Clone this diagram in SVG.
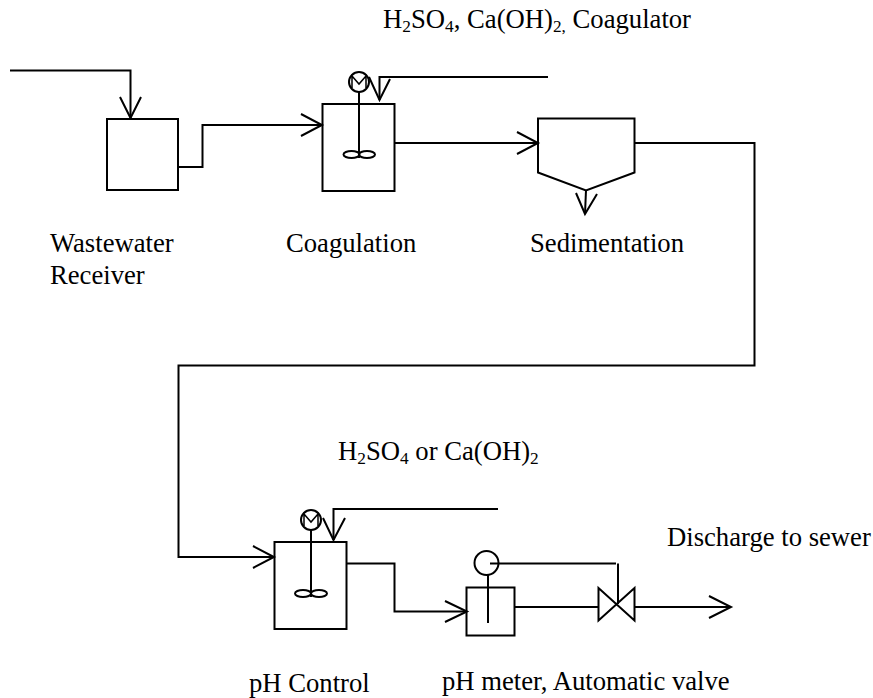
<svg xmlns="http://www.w3.org/2000/svg" width="873" height="698" viewBox="0 0 873 698">
<style>
.s{fill:none;stroke:#000;stroke-width:2;stroke-linejoin:miter}
.b{fill:#fff;stroke:#000;stroke-width:2}
.m{stroke-width:1.500}
.t{font-family:"Liberation Serif","Times New Roman",serif;font-size:26.670px;fill:#000}
.u{font-size:17.330px}
</style>
<rect width="873" height="698" fill="#fff"/>
<g id="connectors" class="s">
<path d="M10 70.500H130.500V118"/><path d="M120 97L130.500 118L141 97"/>
<path d="M178 167H202.500V125H322"/><path d="M301 114L322 125L301 136"/>
<path d="M548 77H379.500V100"/><path d="M369 77L379.500 100L390 79"/>
<path d="M394 143H538"/><path d="M517 132L538 143L517 154"/>
<path d="M586 190L585 214"/><path d="M576 193L585 214L597 194"/>
<path d="M635 143H754.500V365.500H178.500V557H274"/><path d="M253 546L274 557L253 568"/>
<path d="M498 509H333.500V540"/><path d="M323 518L333.500 540L345 518"/>
<path d="M347 563.500H394.500V611.500H467"/><path d="M445 601L467 611.500L445 622"/>
<path d="M490 563.500H616M618 563.500V604"/>
<path d="M515 607H598M635 607H731"/><path d="M709 596L731 607L709 618"/>
</g>
<g id="receiver"><rect class="b" x="107" y="119" width="71" height="71"/></g>
<g id="coagulation" class="s">
<rect x="322.500" y="104" width="72" height="87"/>
<circle cx="359" cy="82" r="10"/><path class="m" d="M352 88V76L359 84L366 76V88"/><path d="M359 92V158"/>
<ellipse cx="351.500" cy="154.500" rx="8" ry="3.500"/><ellipse cx="367" cy="154.500" rx="8" ry="3.500"/>
</g>
<g id="sedimentation"><path class="s" d="M538 118.500H634.500V172.500L586 190.500L538 172.500Z"/></g>
<g id="ph-control" class="s">
<rect x="274.500" y="542" width="72" height="87"/>
<circle cx="311" cy="520" r="10"/><path class="m" d="M304 526V514L311 522L318 514V526"/><path d="M311 530V597"/>
<ellipse cx="303" cy="593.500" rx="8" ry="3.500"/><ellipse cx="319" cy="593.500" rx="8" ry="3.500"/>
</g>
<g id="ph-meter" class="s">
<rect x="466.500" y="587.500" width="48" height="48"/>
<circle cx="486.500" cy="563" r="12"/><path d="M488 575V623"/>
</g>
<g id="valve"><path class="s" d="M598.500 588V620.500L634.500 588V620.500Z"/></g>
<g id="labels" class="t">
<text x="383" y="28">H<tspan class="u" dy="4">2</tspan><tspan dy="-4">SO</tspan><tspan class="u" dy="4">4</tspan><tspan dy="-4">, Ca(OH)</tspan><tspan class="u" dy="4">2,</tspan><tspan dy="-4"> Coagulator</tspan></text>
<text x="50" y="252">Wastewater</text>
<text x="50" y="284">Receiver</text>
<text x="286" y="252">Coagulation</text>
<text x="530" y="252">Sedimentation</text>
<text x="338" y="460">H<tspan class="u" dy="4">2</tspan><tspan dy="-4">SO</tspan><tspan class="u" dy="4">4</tspan><tspan dy="-4"> or Ca(OH)</tspan><tspan class="u" dy="4">2</tspan></text>
<text x="667" y="546">Discharge to sewer</text>
<text x="249" y="692">pH Control</text>
<text x="442" y="690">pH meter, Automatic valve</text>
</g>
</svg>
